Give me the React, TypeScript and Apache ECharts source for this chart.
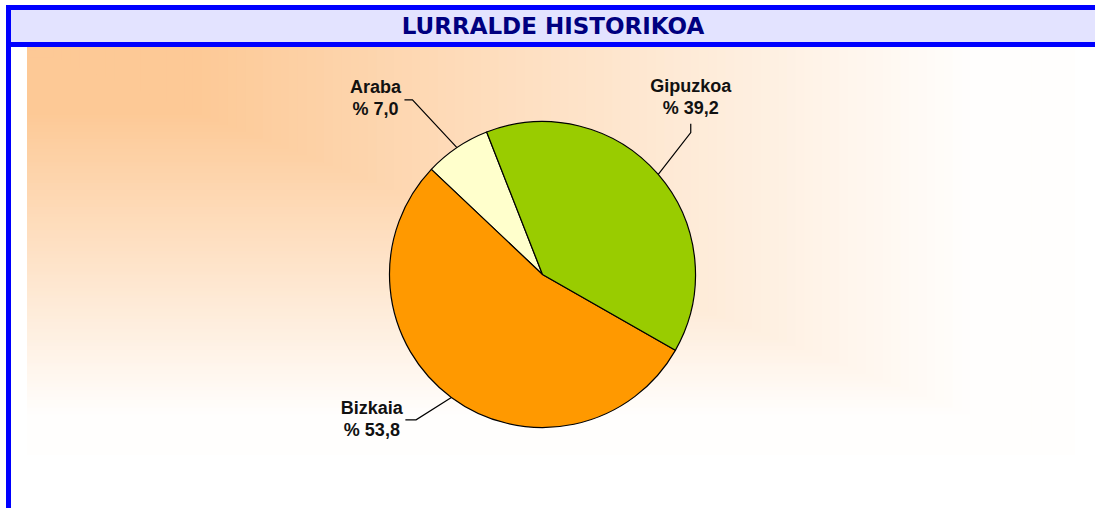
import React, { useEffect, useRef } from 'react';
import * as echarts from 'echarts';

// ---- data ----
const categories = ['Araba', 'Bizkaia', 'Gipuzkoa'];
const shares = [7.0, 53.8, 39.2];
const sliceColors = ['#FFFFCC', '#FF9900', '#99CC00'];
const chartTitle = 'LURRALDE HISTORIKOA';

// ---- layout ----
const W = 1095;
const H = 508;
const PIE_CENTER = [542.5, 274.5];
const PIE_RADIUS = 153;
const START_ANGLE = 111.4;

// leader-line geometry per label: elbow offset from slice edge, end offset from elbow, label centre offset from end
const labelGeom: Record<string, { d1: number[]; d2: number[]; t: number[] }> = {
  Araba: { d1: [-44.5, -47.8], d2: [-8, 0], t: [-29, -2] },
  Bizkaia: { d1: [-35.3, 22.4], d2: [-10.7, 0], t: [-33.5, -1] },
  Gipuzkoa: { d1: [32.5, -41.8], d2: [0, -9], t: [0, -26.3] },
};

const BG = { x: 27, y: 47, w: 1048, h: 408 };
const ORANGE = [253, 201, 150];

function bandColor(t: number) {
  const f = Math.min(0.985, Math.max(0, (t - 0.16) / 0.76));
  const c = ORANGE.map((v) => Math.round(v + (255 - v) * f));
  return `rgb(${c[0]},${c[1]},${c[2]})`;
}

function buildBackground() {
  const els: any[] = [];
  const N = 120;
  for (let k = N; k >= 1; k--) {
    const t = (k - 0.5) / N;
    els.push({
      type: 'rect',
      silent: true,
      z: 0,
      shape: { x: BG.x, y: BG.y, width: (BG.w * k) / N, height: (BG.h * k) / N },
      style: { fill: bandColor(t) },
    });
  }
  return els;
}

function formatShare(v: number) {
  return v.toFixed(1).replace('.', ',');
}

export default function App() {
  const ref = useRef<HTMLDivElement>(null);

  useEffect(() => {
    if (!ref.current) return;
    const chart = echarts.init(ref.current, undefined, { renderer: 'svg' });
    const option: any = {
      animation: false,
      backgroundColor: '#ffffff',
      graphic: [
        ...buildBackground(),
        // blue frame and title band
        { type: 'rect', silent: true, z: 1, shape: { x: 11, y: 10, width: W - 11, height: 32 }, style: { fill: '#E3E3FF' } },
        { type: 'rect', silent: true, z: 1, shape: { x: 6, y: 5, width: W - 6, height: 5 }, style: { fill: '#0000FF' } },
        { type: 'rect', silent: true, z: 1, shape: { x: 6, y: 42, width: W - 6, height: 5 }, style: { fill: '#0000FF' } },
        { type: 'rect', silent: true, z: 1, shape: { x: 6, y: 5, width: 5, height: H - 5 }, style: { fill: '#0000FF' } },
        {
          type: 'text',
          silent: true,
          z: 2,
          x: 553,
          y: 26,
          style: {
            text: chartTitle,
            fill: '#000080',
            fontFamily: '"DejaVu Sans", Verdana, sans-serif',
            fontWeight: 'bold',
            fontSize: 23,
            align: 'center',
            verticalAlign: 'middle',
          },
        },
      ],
      series: [
        {
          type: 'pie',
          silent: true,
          center: PIE_CENTER,
          radius: PIE_RADIUS,
          startAngle: START_ANGLE,
          clockwise: false,
          avoidLabelOverlap: false,
          data: categories.map((name, i) => ({
            name,
            value: shares[i],
            itemStyle: { color: sliceColors[i] },
          })),
          itemStyle: { borderColor: '#000000', borderWidth: 1.2 },
          label: {
            show: true,
            position: 'outside',
            formatter: (p: any) => `${p.name}\n% ${formatShare(p.value)}`,
            fontFamily: '"Liberation Sans", Arial, sans-serif',
            fontWeight: 'bold',
            fontSize: 18,
            lineHeight: 22,
            color: '#111111',
            align: 'center',
          },
          labelLine: {
            show: true,
            length: 20,
            length2: 10,
            smooth: false,
            lineStyle: { color: '#000000', width: 1.2 },
          },
          labelLayout: (p: any) => {
            const g = labelGeom[categories[p.dataIndex]];
            const p0 = p.labelLinePoints[0];
            const p1 = [p0[0] + g.d1[0], p0[1] + g.d1[1]];
            const p2 = [p1[0] + g.d2[0], p1[1] + g.d2[1]];
            return {
              x: p2[0] + g.t[0],
              y: p2[1] + g.t[1],
              align: 'center',
              verticalAlign: 'middle',
              labelLinePoints: [p0, p1, p2],
            };
          },
          emphasis: { disabled: true },
        },
      ],
    };
    chart.setOption(option);
    return () => chart.dispose();
  }, []);

  return (
    <div
      ref={ref}
      style={{ position: 'absolute', left: 0, top: 0, width: W, height: H }}
    />
  );
}
